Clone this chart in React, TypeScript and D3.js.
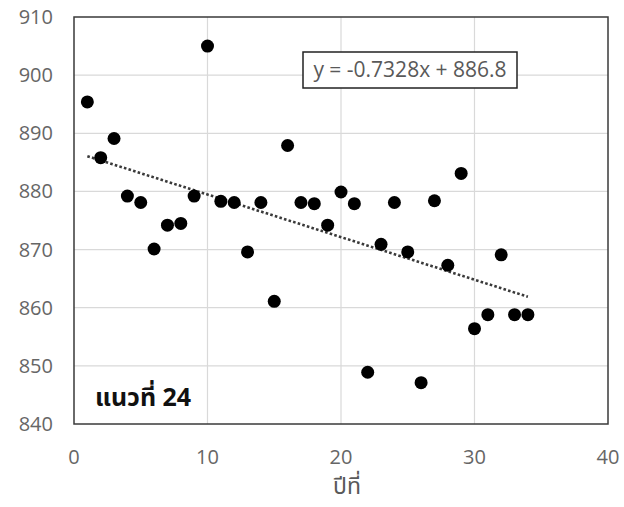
import React from "react";
import * as d3 from "d3";

const years: number[] = [1,2,3,4,5,6,7,8,9,10,11,12,13,14,15,16,17,18,19,20,21,22,23,24,25,26,27,28,29,30,31,32,33,34];
const values: number[] = [895.4,885.8,889.1,879.2,878.1,870.1,874.2,874.5,879.2,905.0,878.3,878.1,869.6,878.1,861.1,887.9,878.1,877.9,874.2,879.9,877.9,848.9,870.9,878.1,869.6,847.1,878.4,867.3,883.1,856.4,858.8,869.1,858.8,858.8];
const xTicks: number[] = [0,10,20,30,40];
const yTicks: number[] = [840,850,860,870,880,890,900,910];
const trendCoef: number[] = [-0.7328, 886.8];
const equationText = "y = -0.7328x + 886.8";
const seriesLabel = "แนวที่ 24";
const xTitle = "ปีที่";

const W = 624, H = 507;
const plot = { left: 74, right: 608, top: 17, bottom: 424 };

export default function App() {
  const x = d3.scaleLinear().domain([0, 40]).range([plot.left, plot.right]);
  const y = d3.scaleLinear().domain([840, 910]).range([plot.bottom, plot.top]);
  const xmin = d3.min(years)!, xmax = d3.max(years)!;
  const line = d3.line<number>().x(d => x(d)).y(d => y(trendCoef[0] * d + trendCoef[1]));
  const font = "'Segoe UI', 'Open Sans', 'Noto Sans', sans-serif";
  const thai = "'Noto Sans Thai', 'Tahoma', 'Leelawadee UI', 'DejaVu Sans', sans-serif";
  return (
    <svg width={W} height={H} style={{ position: "absolute", left: 0, top: 0, background: "#fff" }}>
      <rect x={0} y={0} width={W} height={H} fill="#fff" />
      {xTicks.slice(1, -1).map(t => (
        <line key={"gx" + t} x1={x(t)} x2={x(t)} y1={plot.top} y2={plot.bottom} stroke="#d9d9d9" strokeWidth={1.2} />
      ))}
      {yTicks.slice(1, -1).map(t => (
        <line key={"gy" + t} x1={plot.left} x2={plot.right} y1={y(t)} y2={y(t)} stroke="#d9d9d9" strokeWidth={1.2} />
      ))}
      <rect x={plot.left} y={plot.top} width={plot.right - plot.left} height={plot.bottom - plot.top} fill="none" stroke="#3a3a3a" strokeWidth={1.5} />
      {yTicks.map(t => (
        <text key={"ty" + t} x={53} y={y(t)} dy="0.35em" textAnchor="end" fontFamily={font} fontSize={20} fill="#666">{t}</text>
      ))}
      {xTicks.map(t => (
        <text key={"tx" + t} x={x(t)} y={464} textAnchor="middle" fontFamily={font} fontSize={20} fill="#666">{t}</text>
      ))}
      <path d={line([xmin, xmax]) || ""} fill="none" stroke="#3a3a3a" strokeWidth={2.6} strokeDasharray="2.6,2.2" />
      {years.map((yr, i) => (
        <circle key={"p" + yr} cx={x(yr)} cy={y(values[i])} r={6.5} fill="#000" />
      ))}
      <rect x={303} y={52} width={214} height={36} fill="#fff" stroke="#222" strokeWidth={1.5} />
      <text x={410} y={77} textAnchor="middle" fontFamily={font} fontSize={21} fill="#595959">{equationText}</text>
      <text x={95} y={406} fontFamily={thai} fontWeight="bold" fontSize={25} fill="#111">{seriesLabel}</text>
      <text x={347} y={494} textAnchor="middle" fontFamily={thai} fontSize={23} fill="#595959">{xTitle}</text>
    </svg>
  );
}
